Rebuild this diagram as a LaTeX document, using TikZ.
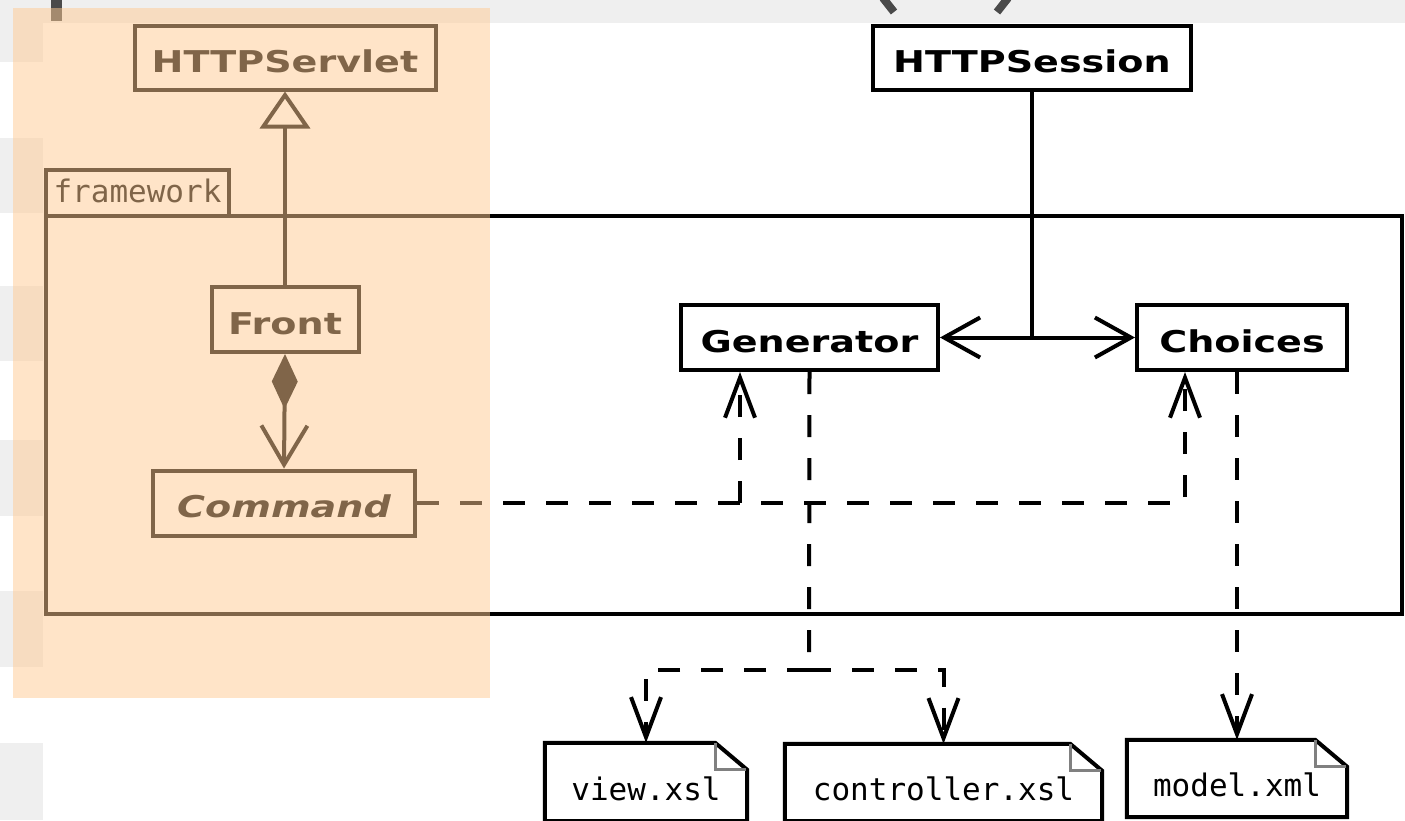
\documentclass[tikz,border=0pt]{standalone}
\usepackage{fontspec}
\usepackage{graphicx}
\usetikzlibrary{arrows.meta}
\newfontfamily\dvsans{DejaVu Sans}
\newfontfamily\dvmono{DejaVu Sans Mono}
\definecolor{bggray}{HTML}{EFEFEF}
\definecolor{fraggray}{HTML}{4A4A4A}
\definecolor{peach}{RGB}{255,203,147}
\definecolor{foldgray}{HTML}{808080}
\newcommand\clsname[1]{\scalebox{1.27}[1]{\dvsans\bfseries\fontsize{30}{36}\selectfont #1}}
\newcommand\monotext[1]{{\dvmono\fontsize{31}{36}\selectfont #1}}
\begin{document}
\begin{tikzpicture}[x=1pt,y=-1pt,
  cls/.style={draw=black, line width=4pt, fill=white, inner sep=0pt, text height=29pt, text depth=0pt},
  notebox/.style={inner sep=0pt, text height=36pt, text depth=0pt},
  pkgtab/.style={draw=black, line width=4pt, inner sep=0pt, text height=18pt, text depth=0pt},
  solidline/.style={line width=4pt},
  depline/.style={line width=4pt, dash pattern=on 22pt off 21pt},
  deptip/.style={-{Straight Barb[length=40pt,width=30pt]}},
  noteline/.style={line width=4pt, line join=miter},
  foldline/.style={line width=3pt, draw=foldgray}
]
\useasboundingbox (0,0) rectangle (1405,820);
\fill[white] (0,0) rectangle (1405,820);
% background strip and bars
\fill[bggray] (0,0) rectangle (1405,23);
\fill[bggray] (0,0) rectangle (43,62);
\fill[bggray] (0,138) rectangle (43,213);
\fill[bggray] (0,286) rectangle (43,361);
\fill[bggray] (0,440) rectangle (43,516);
\fill[bggray] (0,591) rectangle (43,667);
\fill[bggray] (0,743) rectangle (43,820);
% cut-off fragments of a title
\fill[fraggray] (51,0) rectangle (62,21);
\draw[fraggray, line width=8pt] (883,-2) -- (894,12);
\draw[fraggray, line width=8pt] (1008,-2) -- (997,12);

% package frame
\draw[line width=4pt] (46,216) rectangle (1402,614);
\node[pkgtab, minimum width=183pt, minimum height=46pt] (pkg) at (137.5,193) {\monotext{framework}};

% classes
\node[cls, minimum width=301pt, minimum height=64pt] (servlet) at (285,57.5) {\clsname{HTTPServlet}};
\node[cls, minimum width=318pt, minimum height=64pt] (session) at (1032,58) {\clsname{HTTPSession}};
\node[cls, minimum width=147pt, minimum height=65pt] (front) at (285,319.5) {\clsname{Front}};
\node[cls, minimum width=262pt, minimum height=65pt] (cmd) at (284,503) {\clsname{\itshape Command}};
\node[cls, minimum width=257pt, minimum height=65pt] (gen) at (809.5,337.5) {\clsname{Generator}};
\node[cls, minimum width=210pt, minimum height=65pt] (choices) at (1242,337.5) {\clsname{Choices}};

% notes
\node[notebox, minimum width=202pt, minimum height=78pt] (view) at (646,782) {\monotext{view.xsl}\hspace{10pt}};
\node[notebox, minimum width=317pt, minimum height=77pt] (ctrl) at (943.5,782.5) {\monotext{controller.xsl}\hspace{10pt}};
\node[notebox, minimum width=220pt, minimum height=77pt] (model) at (1237,778.5) {\monotext{model.xml}\hspace{10pt}};
\foreach \n in {view,ctrl,model}{
  \draw[noteline] (\n.north west) -- ([xshift=-32pt]\n.north east) -- ([yshift=-27pt]\n.north east) -- (\n.south east) -- (\n.south west) -- cycle;
  \draw[foldline] ([xshift=-32pt]\n.north east) -- ([xshift=-32pt,yshift=-27pt]\n.north east) -- ([xshift=-1pt,yshift=-27pt]\n.north east);
}

% generalization
\draw[solidline, -{Triangle[open,length=37pt,width=50pt,fill=white]}] (front.north) -- (servlet.south);
% composition
\draw[solidline, {Diamond[length=55pt,width=26pt]}-{Straight Barb[length=39pt,width=46pt]}] (front.south) -- (cmd.north);
% association
\coordinate (assocj) at (session.south |- gen.east);
\draw[solidline, {Straight Barb[length=36pt,width=40pt]}-{Straight Barb[length=36pt,width=40pt]}] (gen.east) -- (choices.west);
\draw[solidline] (session.south) -- (assocj);

% dependencies from Command
\coordinate (cj1) at (1185,503);
\coordinate (cj2) at (740,503);
\draw[depline, deptip] (cmd.east) -- (cj1) -- (cj1 |- choices.south);
\draw[depline, deptip] (cj2) -- (cj2 |- gen.south);

% Generator to xsl files
\coordinate (split) at (809,670);
\draw[depline] (gen.south) -- (split);
\draw[depline, deptip] (split) -| (view.north);
\draw[depline, deptip] (split) -| (ctrl.north);
% Choices to model
\draw[depline, deptip] (choices.south -| model.north) -- (model.north);

% translucent highlight
\fill[peach, opacity=0.5] (13,8) rectangle (490,698);
\end{tikzpicture}
\end{document}
